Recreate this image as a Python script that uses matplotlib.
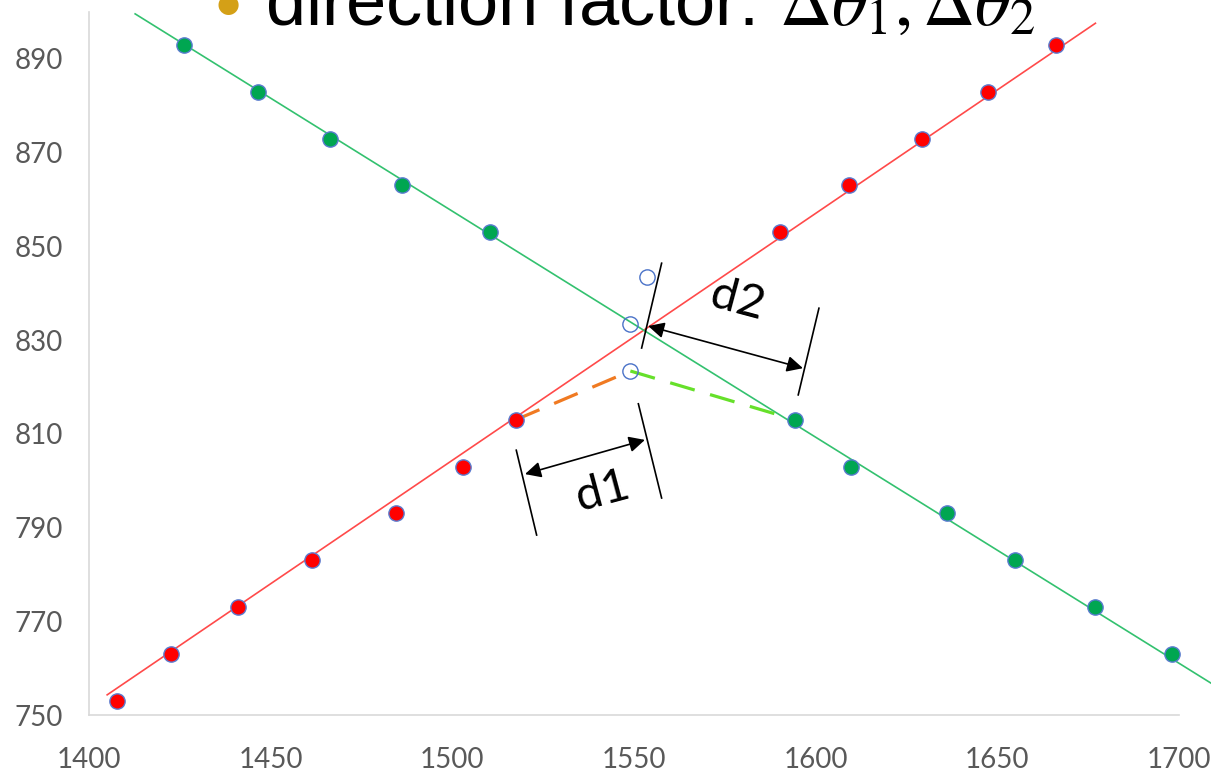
import matplotlib.pyplot as plt
import numpy as np

# red series (rising) and green series (falling)
red_x = [1407.7, 1422.6, 1441.0, 1461.4, 1484.5, 1502.9, 1517.5,
         1590.2, 1609.2, 1629.3, 1647.5, 1666.2]
red_y = [753, 763, 773, 783, 793, 803, 813, 853, 863, 873, 883, 893]
green_x = [1426.1, 1446.5, 1466.3, 1486.2, 1510.4,
           1594.3, 1609.7, 1636.2, 1654.9, 1676.9, 1698.1]
green_y = [893, 883, 873, 863, 853, 813, 803, 793, 783, 773, 763]

# trend lines (end points)
red_trend_x = [1405.0, 1677.0]
red_trend_y = [754.3, 897.6]
green_trend_x = [1412.7, 1708.8]
green_trend_y = [899.6, 756.8]

# hollow candidate points
cand_x = [1553.6, 1549.0, 1549.0]
cand_y = [843.4, 833.4, 823.4]

# dashed links from last observed points to the lower candidate
orange_dash_x = [1517.5, 1549.0]
orange_dash_y = [813, 823.4]
lime_dash_x = [1549.0, 1594.3]
lime_dash_y = [823.4, 813]

x_ticks = [1400, 1450, 1500, 1550, 1600, 1650, 1700]
y_ticks = [750, 770, 790, 810, 830, 850, 870, 890]

W, H = 1211, 775
plt.rcParams['mathtext.fontset'] = 'stix'
fig = plt.figure(figsize=(W / 100, H / 100), dpi=100)
ax = fig.add_axes([89 / W, 1 - 715 / H, (1179 - 89) / W, (715 - 12) / H])

ax.plot(red_trend_x, red_trend_y, color='#FF4A4A', lw=1.2, clip_on=False, zorder=2)
ax.plot(green_trend_x, green_trend_y, color='#33C16F', lw=1.2, clip_on=False, zorder=2)

ax.plot(orange_dash_x, orange_dash_y, color='#F07A22', lw=2.3,
        dashes=(8, 5), zorder=3)
ax.plot(lime_dash_x, lime_dash_y, color='#66E02A', lw=2.3,
        dashes=(8, 5), zorder=3)

ax.plot(red_x, red_y, 'o', ms=11, mfc='#FF0000', mec='#5A7BD0', mew=1.0,
        zorder=4, clip_on=False)
ax.plot(green_x, green_y, 'o', ms=11, mfc='#00A651', mec='#5A7BD0', mew=1.0,
        zorder=4, clip_on=False)
ax.plot(cand_x, cand_y, 'o', ms=11, mfc='none', mec='#4A72C8', mew=1.0, zorder=4)

ax.set_xlim(1400, 1700)
ax.set_ylim(750, 900)
ax.set_xticks(x_ticks)
ax.set_yticks(y_ticks)
ax.tick_params(length=0, labelsize=20, labelcolor='#595959')
ax.tick_params(axis='y', pad=19)
ax.tick_params(axis='x', pad=23)
for lab in ax.get_xticklabels() + ax.get_yticklabels():
    lab.set_family('Lato')
for s in ['top', 'right']:
    ax.spines[s].set_visible(False)
for s in ['left', 'bottom']:
    ax.spines[s].set_color('#D9D9D9')
    ax.spines[s].set_linewidth(1.2)

# dimension marks d1 / d2
ext_lines = [
    ([1517.6, 1523.2], [806.5, 788.4]),
    ([1551.2, 1557.6], [816.4, 796.3]),
    ([1557.6, 1552.1], [846.4, 828.3]),
    ([1600.9, 1595.2], [836.8, 818.3]),
]
for xs, ys in ext_lines:
    ax.plot(xs, ys, color='black', lw=1.2, zorder=5)

arrow_kw = dict(arrowstyle='<|-|>', color='black', lw=1.2,
                mutation_scale=24, shrinkA=0, shrinkB=0)
ax.annotate('', xy=(1553.0, 808.7), xytext=(1520.0, 801.4), arrowprops=arrow_kw)
ax.annotate('', xy=(1596.5, 824.0), xytext=(1553.9, 833.0), arrowprops=arrow_kw)

ax.text(1541.5, 797.6, 'd1', fontsize=34, family='Lato', rotation=15,
        rotation_mode='anchor', ha='center', va='center')
ax.text(1578.4, 838.5, 'd2', fontsize=34, family='Lato', rotation=-15,
        rotation_mode='anchor', ha='center', va='center')

# clipped slide heading
fig.text(228 / W, 1 - 5 / H, '\u25CF', fontsize=19, color='#D4A017',
         family='DejaVu Sans', ha='center', va='center')
fig.text(265 / W, 1 - 25 / H, r'direction factor: $\Delta\theta_1,\Delta\theta_2$',
         fontsize=52, family='Liberation Sans', va='baseline')

fig.savefig('out.png', dpi=100)
